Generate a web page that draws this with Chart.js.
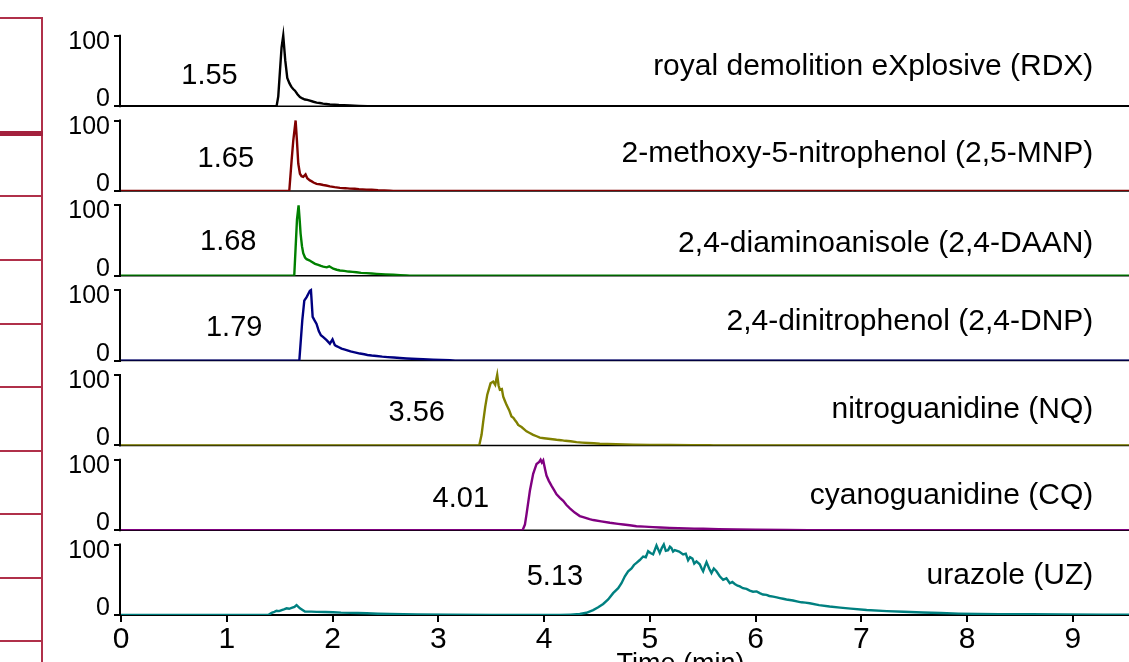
<!DOCTYPE html>
<html>
<head>
<meta charset="utf-8">
<script src="https://cdn.jsdelivr.net/npm/chart.js@4.4.1/dist/chart.umd.min.js"></script>
<style>
html,body{margin:0;padding:0;background:#fff;overflow:hidden;width:1129px;height:662px;}
#wrap{position:absolute;left:0;top:0;width:1240px;height:700px;}
.deco{position:absolute;background:#b0304a;}
</style>
</head>
<body>
<div id="wrap"><canvas id="c"></canvas></div>
<div class="deco" style="left:0;top:17px;width:43px;height:2px"></div>
<div class="deco" style="left:41px;top:17px;width:2px;height:700px"></div>
<div class="deco" style="left:0;top:131px;width:43px;height:5px;background:#a3213d"></div>
<div class="deco" style="left:0;top:195px;width:43px;height:2px"></div>
<div class="deco" style="left:0;top:259px;width:43px;height:2px"></div>
<div class="deco" style="left:0;top:323px;width:43px;height:2px"></div>
<div class="deco" style="left:0;top:386px;width:43px;height:2px"></div>
<div class="deco" style="left:0;top:450px;width:43px;height:2px"></div>
<div class="deco" style="left:0;top:513px;width:43px;height:2px"></div>
<div class="deco" style="left:0;top:577px;width:43px;height:2px"></div>
<div class="deco" style="left:0;top:640px;width:43px;height:2px"></div>
<script>
// ---------- data ----------
const xTickValues = [0, 1, 2, 3, 4, 5, 6, 7, 8, 9];
const yTickValues = [0, 100];
const compoundNames = [
  'royal demolition eXplosive (RDX)',
  '2-methoxy-5-nitrophenol (2,5-MNP)',
  '2,4-diaminoanisole (2,4-DAAN)',
  '2,4-dinitrophenol (2,4-DNP)',
  'nitroguanidine (NQ)',
  'cyanoguanidine (CQ)',
  'urazole (UZ)'
];
const retentionLabels = ['1.55', '1.65', '1.68', '1.79', '3.56', '4.01', '5.13'];

const rdxTime = [0, 1.471, 1.487, 1.503, 1.518, 1.534, 1.553, 1.572, 1.591, 1.602, 1.613, 1.63, 1.645, 1.668, 1.692, 1.715, 1.739, 1.762, 1.786, 1.82, 1.849, 1.88, 1.91, 1.94, 1.975, 2.02, 2.06, 2.11, 2.164, 2.25, 2.33, 10.6];
const rdxIntensity = [0, 0, 14, 50, 83, 100, 65, 40, 33, 30, 27, 24, 22, 17, 13, 11, 9.5, 9, 8, 6.3, 5, 4.6, 3.6, 3.2, 2.5, 2.1, 1.7, 1.4, 1, 0.5, 0, 0];

const mnpTime = [0, 1.591, 1.613, 1.629, 1.651, 1.664, 1.676, 1.692, 1.707, 1.723, 1.745, 1.761, 1.786, 1.80, 1.82, 1.849, 1.88, 1.912, 1.94, 1.975, 2.02, 2.07, 2.12, 2.164, 2.21, 2.25, 2.32, 2.37, 2.43, 2.49, 2.543, 2.574, 10.6];
const mnpIntensity = [0, 0, 43, 72, 100, 70, 39, 24.5, 21, 20, 23.5, 18, 15, 14, 12, 10, 9.5, 8.5, 7.8, 6.6, 5.5, 4.5, 4, 3.3, 3.1, 2.6, 2, 1.8, 1.2, 0.9, 0.5, 0, 0];

const daanTime = [0, 1.638, 1.651, 1.664, 1.679, 1.689, 1.698, 1.711, 1.723, 1.74, 1.755, 1.78, 1.802, 1.835, 1.865, 1.89, 1.912, 1.945, 1.969, 2.007, 2.04, 2.07, 2.11, 2.15, 2.19, 2.227, 2.27, 2.32, 2.37, 2.416, 2.46, 2.5, 2.574, 2.64, 2.7, 2.73, 10.6];
const daanIntensity = [0, 0, 40, 80, 100, 80, 60, 42, 32, 26, 23.5, 22, 20, 17, 15.5, 14, 13, 12, 13.5, 10, 8.6, 7.5, 7, 6, 5.6, 5, 4.2, 3.8, 3.3, 2.8, 2.4, 2, 1.4, 1, 0.4, 0, 0];

const dnpTime = [0, 1.686, 1.714, 1.733, 1.755, 1.786, 1.796, 1.812, 1.83, 1.849, 1.87, 1.89, 1.915, 1.944, 1.975, 2.0, 2.022, 2.038, 2.06, 2.085, 2.11, 2.133, 2.17, 2.2, 2.23, 2.259, 2.3, 2.33, 2.37, 2.417, 2.47, 2.52, 2.58, 2.637, 2.7, 2.75, 2.8, 2.857, 2.95, 3.11, 3.16, 10.6];
const dnpIntensity = [0, 0, 57, 85, 90, 99, 100, 62, 57, 52, 42, 36, 33, 29, 24, 30, 22, 20.5, 19, 17, 16, 15, 13, 12, 11, 10, 9, 8, 7.2, 6.5, 5.6, 5, 4.3, 3.7, 3, 2.6, 2.2, 1.9, 1.2, 0.5, 0, 0];

const nqTime = [0, 3.387, 3.409, 3.425, 3.444, 3.463, 3.494, 3.519, 3.538, 3.557, 3.570, 3.582, 3.601, 3.614, 3.63, 3.645, 3.67, 3.692, 3.71, 3.724, 3.74, 3.755, 3.787, 3.81, 3.834, 3.86, 3.897, 3.93, 3.96, 4.0, 4.04, 4.08, 4.118, 4.16, 4.2, 4.25, 4.307, 4.36, 4.42, 4.47, 4.527, 4.6, 4.68, 4.76, 4.842, 5.0, 5.189, 5.4, 5.567, 5.6, 10.6];
const nqIntensity = [0, 0, 15, 34, 55, 72, 88, 90.5, 86, 100, 85, 79, 80, 69, 63, 57.5, 50, 41, 39, 36, 33, 29, 26, 23, 20, 18, 15, 13, 11, 10.2, 9.5, 8.7, 8, 7.4, 6.5, 5.8, 4.7, 4, 3.4, 3, 2.4, 2.1, 1.6, 1.3, 1, 0.7, 0.5, 0.4, 0.3, 0, 0];

const cqTime = [0, 3.797, 3.819, 3.834, 3.866, 3.897, 3.929, 3.954, 3.967, 3.979, 3.992, 4.01, 4.023, 4.045, 4.071, 4.095, 4.118, 4.15, 4.181, 4.21, 4.244, 4.29, 4.338, 4.37, 4.4, 4.43, 4.465, 4.54, 4.622, 4.7, 4.75, 4.81, 4.874, 4.95, 5.03, 5.1, 5.189, 5.27, 5.35, 5.42, 5.504, 5.65, 5.819, 6.0, 6.292, 6.5, 10.6];
const cqIntensity = [0, 0, 8, 22.5, 56, 80, 94, 97, 100, 96, 99, 86, 77.5, 70, 63, 57, 51, 46, 41.6, 36, 31, 25, 20, 18.5, 17, 15.6, 14.4, 12.5, 10.5, 9, 8, 7, 5.7, 5, 4.3, 3.8, 3.3, 3, 2.6, 2.3, 2, 1.5, 1, 0.6, 0.3, 0, 0];

const uzTime = [0, 1.392, 1.424, 1.45, 1.471, 1.495, 1.519, 1.54, 1.566, 1.59, 1.613, 1.64, 1.660, 1.675, 1.692, 1.739, 1.8, 1.85, 1.93, 2.007, 2.08, 2.165, 2.24, 2.323, 2.43, 2.543, 2.8, 3.1, 3.5, 4.149, 4.25, 4.338, 4.4, 4.464, 4.512, 4.559, 4.606, 4.653, 4.701, 4.732, 4.764, 4.795, 4.827, 4.85, 4.874, 4.905, 4.937, 4.962, 4.984, 5.006, 5.031, 5.063, 5.082, 5.094, 5.113, 5.132, 5.151, 5.173, 5.19, 5.204, 5.22, 5.236, 5.277, 5.315, 5.34, 5.362, 5.38, 5.403, 5.42, 5.441, 5.472, 5.49, 5.504, 5.52, 5.536, 5.561, 5.583, 5.605, 5.630, 5.661, 5.693, 5.724, 5.756, 5.78, 5.803, 5.83, 5.851, 5.88, 5.914, 5.945, 5.976, 6.01, 6.039, 6.07, 6.103, 6.13, 6.166, 6.2, 6.229, 6.26, 6.292, 6.354, 6.4, 6.433, 6.47, 6.512, 6.6, 6.7, 6.8, 6.9, 7.05, 7.24, 7.4, 7.58, 7.75, 7.92, 8.1, 8.3, 8.61, 8.9, 9.29, 10.6];
const uzIntensity = [0, 0, 3, 4.5, 6, 5.5, 7, 8, 9.5, 8.8, 10, 11.5, 14, 12, 9.5, 5, 4.8, 4.5, 4.2, 4, 3.4, 3, 2.8, 2.4, 1.8, 1.4, 0.8, 0.3, 0, 0, 0.6, 1.4, 3.2, 7, 11, 15.7, 22, 31, 38, 45, 55, 62, 66, 71, 74, 78, 83, 82, 90.5, 88, 86, 98.6, 92, 88, 95, 100, 91, 92, 97, 95, 90, 92, 90, 86, 87, 77.6, 82, 80, 73, 76, 72, 66, 62, 69, 75, 66, 59.5, 66, 62, 55, 50, 52, 45, 47, 44, 41.5, 40.5, 38, 37, 34.5, 33, 33.5, 31, 29, 28.6, 27, 26, 25, 24, 23, 22, 20.5, 19, 18, 17.5, 16.7, 14, 12, 10.5, 9, 7, 5.5, 4.6, 3.5, 2.8, 2, 1.6, 1.3, 1, 0.8, 0.6, 0.3];

const seriesTimes = [rdxTime, mnpTime, daanTime, dnpTime, nqTime, cqTime, uzTime];
const seriesIntensities = [rdxIntensity, mnpIntensity, daanIntensity, dnpIntensity, nqIntensity, cqIntensity, uzIntensity];

// ---------- styling / annotation placement ----------
const traceColors = ['#000000', '#800000', '#008000', '#000080', '#808000', '#800080', '#008080'];
const rtLabelAt = [[0.837, 45.7], [0.991, 48.4], [1.014, 51], [1.070, 50.2], [2.796, 50], [3.213, 47.2], [4.103, 58]];
const nameLabelAt = [[9.193, 59.6], [9.193, 56], [9.193, 49.4], [9.193, 58.5], [9.193, 54.6], [9.193, 52], [9.193, 58.9]];
const FONT = '"Liberation Sans", Arial, Helvetica, sans-serif';
const PANEL_MAX = 120.3;

const yIds = compoundNames.map((_, i) => 'y' + i);

const datasets = compoundNames.map((name, i) => ({
  label: name,
  yAxisID: yIds[i],
  data: seriesTimes[i].map((t, j) => ({x: t, y: seriesIntensities[i][j]})),
  borderColor: traceColors[i],
  backgroundColor: traceColors[i],
  borderWidth: 2.4,
  pointRadius: 0,
  showLine: true,
  tension: 0,
  fill: false
}));

const scales = {
  x: {
    type: 'linear',
    position: 'bottom',
    min: 0,
    max: 10.58,
    afterBuildTicks: s => { s.ticks = xTickValues.map(v => ({value: v})); },
    afterFit: s => { s.height = 85; },
    border: {display: true, color: '#000', width: 2},
    grid: {drawOnChartArea: false, drawTicks: true, tickLength: 7, color: '#000', lineWidth: 2},
    ticks: {color: '#000', font: {family: FONT, size: 30}, padding: 0, maxRotation: 0, autoSkip: false},
    title: {display: true, text: 'Time (min)', color: '#000', font: {family: FONT, size: 27}, padding: {top: 0, bottom: 19}}
  }
};
// left-stacked boxes are laid out from the last-added scale downward,
// so add the bottom panel's axis first and the top panel's axis last
yIds.slice().reverse().forEach(id => {
  scales[id] = {
    type: 'linear',
    position: 'left',
    stack: 'panels',
    stackWeight: 1,
    min: 0,
    max: PANEL_MAX,
    afterBuildTicks: s => { s.ticks = yTickValues.map(v => ({value: v})); },
    afterFit: s => { s.width = 121; },
    border: {display: false},
    grid: {drawOnChartArea: false, drawTicks: true, tickLength: 7, color: '#000', lineWidth: 2},
    ticks: {display: false}
  };
});

const panelDecor = {
  id: 'panelDecor',
  beforeDatasetsDraw(chart) {
    const ctx = chart.ctx, ca = chart.chartArea;
    ctx.save();
    yIds.forEach((id, i) => {
      const ys = chart.scales[id];
      const y0 = ys.getPixelForValue(0);
      // black baseline under trace
      ctx.strokeStyle = '#000';
      ctx.lineWidth = 1.5;
      ctx.beginPath();
      ctx.moveTo(ca.left, y0);
      ctx.lineTo(ca.right, y0);
      ctx.stroke();
      // y axis line from 0 to 100
      ctx.lineWidth = 2;
      ctx.beginPath();
      ctx.moveTo(ca.left - 1, ys.getPixelForValue(yTickValues[0]) + 1);
      ctx.lineTo(ca.left - 1, ys.getPixelForValue(yTickValues[1]) - 1);
      ctx.stroke();
      // y tick labels
      ctx.fillStyle = '#000';
      ctx.font = '25px ' + FONT;
      ctx.textAlign = 'right';
      ctx.textBaseline = 'alphabetic';
      ctx.fillText(String(yTickValues[1]), ca.left - 11, ys.getPixelForValue(yTickValues[1]) + 13);
      ctx.fillText(String(yTickValues[0]), ca.left - 11, ys.getPixelForValue(yTickValues[0]));
    });
    ctx.restore();
  },
  afterDatasetsDraw(chart) {
    const ctx = chart.ctx, xs = chart.scales.x;
    ctx.save();
    ctx.fillStyle = '#000';
    ctx.textBaseline = 'alphabetic';
    yIds.forEach((id, i) => {
      const ys = chart.scales[id];
      ctx.font = '29px ' + FONT;
      ctx.textAlign = 'center';
      ctx.fillText(retentionLabels[i], xs.getPixelForValue(rtLabelAt[i][0]), ys.getPixelForValue(rtLabelAt[i][1]) + 10.4);
      ctx.font = '30px ' + FONT;
      ctx.textAlign = 'right';
      ctx.fillText(compoundNames[i], xs.getPixelForValue(nameLabelAt[i][0]), ys.getPixelForValue(nameLabelAt[i][1]) + 10.7);
    });
    ctx.restore();
  }
};

new Chart(document.getElementById('c'), {
  type: 'scatter',
  data: {datasets},
  options: {
    responsive: true,
    maintainAspectRatio: false,
    animation: false,
    events: [],
    devicePixelRatio: 1,
    layout: {padding: {top: 21.4, left: 0, right: 0, bottom: 0}},
    plugins: {legend: {display: false}, tooltip: {enabled: false}},
    scales
  },
  plugins: [panelDecor]
});
</script>
</body>
</html>
